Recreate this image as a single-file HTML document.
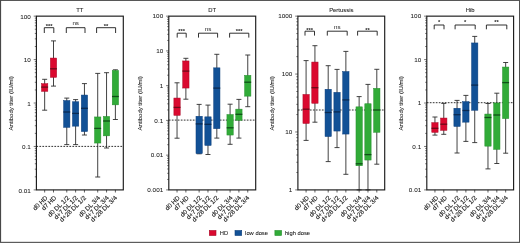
<!DOCTYPE html>
<html lang="en">
<head>
<meta charset="utf-8">
<title>Antibody titers: TT, DT, Pertussis, Hib</title>
<style>
html,body{margin:0;padding:0;background:#fff;}
body{width:520px;height:243px;overflow:hidden;font-family:"Liberation Sans",Arial,sans-serif;}
svg{display:block;will-change:transform;}
</style>
</head>
<body>
<svg width="520" height="243" viewBox="0 0 520 243" font-family="'Liberation Sans', Arial, sans-serif" font-size="5.8" fill="#1a1a1a">
<rect x="0" y="0" width="520" height="243" fill="#fff"/>
<g>
<text transform="translate(79.85,12.30) scale(0.97,1)" text-anchor="middle" font-size="6.1" stroke="#1a1a1a" stroke-width="0.08">TT</text>
<text transform="translate(12.70,103.33) rotate(-90) scale(0.965,1)" text-anchor="middle" font-size="6.2" stroke="#1a1a1a" stroke-width="0.08">Antibody titer (IU/ml)</text>
<line x1="36.40" y1="146.40" x2="123.30" y2="146.40" stroke="#1a1a1a" stroke-width="0.9" stroke-dasharray="1.7 1.3"/>
<path d="M44.67 79.30V110.20M42.17 79.30H47.17M42.17 110.20H47.17" stroke="#2e2e2e" stroke-width="0.9" fill="none"/>
<rect x="41.52" y="83.65" width="6.30" height="7.70" fill="#da092f" stroke="#a90826" stroke-width="0.5"/>
<line x1="41.27" y1="87.10" x2="48.07" y2="87.10" stroke="#6d0818" stroke-width="1.3"/>
<path d="M53.51 40.90V86.10M51.01 40.90H56.01M51.01 86.10H56.01" stroke="#2e2e2e" stroke-width="0.9" fill="none"/>
<rect x="50.36" y="58.05" width="6.30" height="19.30" fill="#da092f" stroke="#a90826" stroke-width="0.5"/>
<line x1="50.11" y1="68.80" x2="56.91" y2="68.80" stroke="#6d0818" stroke-width="1.3"/>
<path d="M66.77 98.10V144.60M64.27 98.10H69.27M64.27 144.60H69.27" stroke="#2e2e2e" stroke-width="0.9" fill="none"/>
<rect x="63.62" y="100.55" width="6.30" height="26.80" fill="#125196" stroke="#0c3f7c" stroke-width="0.5"/>
<line x1="63.37" y1="112.00" x2="70.17" y2="112.00" stroke="#0a2a52" stroke-width="1.3"/>
<path d="M75.61 99.60V144.60M73.11 99.60H78.11M73.11 144.60H78.11" stroke="#2e2e2e" stroke-width="0.9" fill="none"/>
<rect x="72.46" y="101.75" width="6.30" height="24.40" fill="#125196" stroke="#0c3f7c" stroke-width="0.5"/>
<line x1="72.21" y1="113.40" x2="79.01" y2="113.40" stroke="#0a2a52" stroke-width="1.3"/>
<path d="M84.45 83.60V135.00M81.95 83.60H86.95M81.95 135.00H86.95" stroke="#2e2e2e" stroke-width="0.9" fill="none"/>
<rect x="81.30" y="95.05" width="6.30" height="36.50" fill="#125196" stroke="#0c3f7c" stroke-width="0.5"/>
<line x1="81.05" y1="108.30" x2="87.85" y2="108.30" stroke="#0a2a52" stroke-width="1.3"/>
<path d="M97.71 73.40V177.00M95.21 73.40H100.21M95.21 177.00H100.21" stroke="#2e2e2e" stroke-width="0.9" fill="none"/>
<rect x="94.56" y="116.95" width="6.30" height="26.10" fill="#31ab38" stroke="#258f2c" stroke-width="0.5"/>
<line x1="94.31" y1="128.40" x2="101.11" y2="128.40" stroke="#0f4f17" stroke-width="1.3"/>
<path d="M106.55 72.70V148.00M104.05 72.70H109.05M104.05 148.00H109.05" stroke="#2e2e2e" stroke-width="0.9" fill="none"/>
<rect x="103.40" y="116.45" width="6.30" height="19.40" fill="#31ab38" stroke="#258f2c" stroke-width="0.5"/>
<line x1="103.15" y1="121.00" x2="109.95" y2="121.00" stroke="#0f4f17" stroke-width="1.3"/>
<path d="M115.39 69.80V119.50M112.89 69.80H117.89M112.89 119.50H117.89" stroke="#2e2e2e" stroke-width="0.9" fill="none"/>
<rect x="112.24" y="70.45" width="6.30" height="34.40" fill="#31ab38" stroke="#258f2c" stroke-width="0.5"/>
<line x1="111.99" y1="96.50" x2="118.79" y2="96.50" stroke="#0f4f17" stroke-width="1.3"/>
<rect x="36.40" y="16.15" width="86.90" height="173.75" fill="none" stroke="#1a1a1a" stroke-width="1.15"/>
<text transform="translate(30.80,18.95) scale(1.06,1)" text-anchor="end" font-size="6.0" stroke="#1a1a1a" stroke-width="0.05">100</text>
<text transform="translate(30.80,62.39) scale(1.06,1)" text-anchor="end" font-size="6.0" stroke="#1a1a1a" stroke-width="0.05">10</text>
<text transform="translate(30.80,105.83) scale(1.06,1)" text-anchor="end" font-size="6.0" stroke="#1a1a1a" stroke-width="0.05">1</text>
<text transform="translate(30.80,149.26) scale(1.06,1)" text-anchor="end" font-size="6.0" stroke="#1a1a1a" stroke-width="0.05">0.1</text>
<text transform="translate(30.80,192.70) scale(1.06,1)" text-anchor="end" font-size="6.0" stroke="#1a1a1a" stroke-width="0.05">0.01</text>
<path d="M33.70 16.15H36.40M34.80 46.51H36.40M34.80 38.86H36.40M34.80 33.44H36.40M34.80 29.23H36.40M34.80 25.79H36.40M34.80 22.88H36.40M34.80 20.36H36.40M34.80 18.14H36.40M33.70 59.59H36.40M34.80 89.95H36.40M34.80 82.30H36.40M34.80 76.87H36.40M34.80 72.66H36.40M34.80 69.22H36.40M34.80 66.32H36.40M34.80 63.80H36.40M34.80 61.58H36.40M33.70 103.03H36.40M34.80 133.39H36.40M34.80 125.74H36.40M34.80 120.31H36.40M34.80 116.10H36.40M34.80 112.66H36.40M34.80 109.75H36.40M34.80 107.23H36.40M34.80 105.01H36.40M33.70 146.46H36.40M34.80 176.82H36.40M34.80 169.18H36.40M34.80 163.75H36.40M34.80 159.54H36.40M34.80 156.10H36.40M34.80 153.19H36.40M34.80 150.67H36.40M34.80 148.45H36.40M33.70 189.90H36.40" stroke="#1a1a1a" stroke-width="0.6" fill="none"/>
<text transform="translate(47.97,198.30) rotate(-44.5)" text-anchor="end" font-size="6.3" stroke="#1a1a1a" stroke-width="0.14">d0 HD</text>
<text transform="translate(56.81,198.30) rotate(-44.5)" text-anchor="end" font-size="6.3" stroke="#1a1a1a" stroke-width="0.14">d7 HD</text>
<text transform="translate(69.67,198.30) rotate(-44.5)" text-anchor="end" font-size="6.3" stroke="#1a1a1a" stroke-width="0.14">d0 DL 1/2</text>
<text transform="translate(78.31,198.30) rotate(-44.5)" text-anchor="end" font-size="6.3" stroke="#1a1a1a" stroke-width="0.14">d+7 DL 1/2</text>
<text transform="translate(86.55,198.30) rotate(-44.5)" text-anchor="end" font-size="6.3" stroke="#1a1a1a" stroke-width="0.14">d+28 DL 1/2</text>
<text transform="translate(100.61,198.30) rotate(-44.5)" text-anchor="end" font-size="6.3" stroke="#1a1a1a" stroke-width="0.14">d0 DL 3/4</text>
<text transform="translate(109.25,198.30) rotate(-44.5)" text-anchor="end" font-size="6.3" stroke="#1a1a1a" stroke-width="0.14">d+7 DL 3/4</text>
<text transform="translate(117.49,198.30) rotate(-44.5)" text-anchor="end" font-size="6.3" stroke="#1a1a1a" stroke-width="0.14">d+28 DL 3/4</text>
<path d="M44.67 189.90V192.50M53.51 189.90V192.50M66.77 189.90V192.50M75.61 189.90V192.50M84.45 189.90V192.50M97.71 189.90V192.50M106.55 189.90V192.50M115.39 189.90V192.50" stroke="#1a1a1a" stroke-width="0.7" fill="none"/>
<path d="M44.30 33.00V27.70H53.80V33.00" stroke="#1a1a1a" stroke-width="0.9" fill="none"/>
<text x="49.05" y="27.70" text-anchor="middle" font-size="5.8" font-weight="bold">***</text>
<path d="M66.30 33.00V27.70H85.00V33.00" stroke="#1a1a1a" stroke-width="0.9" fill="none"/>
<text x="75.65" y="25.20" text-anchor="middle" font-size="6.2">ns</text>
<path d="M96.60 33.00V27.70H115.60V33.00" stroke="#1a1a1a" stroke-width="0.9" fill="none"/>
<text x="106.10" y="27.70" text-anchor="middle" font-size="5.8" font-weight="bold">**</text>
</g>
<g>
<text transform="translate(212.25,12.30) scale(0.97,1)" text-anchor="middle" font-size="6.1" stroke="#1a1a1a" stroke-width="0.08">DT</text>
<text transform="translate(141.50,103.33) rotate(-90) scale(0.965,1)" text-anchor="middle" font-size="6.2" stroke="#1a1a1a" stroke-width="0.08">Antibody titer (IU/ml)</text>
<line x1="168.80" y1="120.10" x2="255.70" y2="120.10" stroke="#1a1a1a" stroke-width="0.9" stroke-dasharray="1.7 1.3"/>
<path d="M177.04 82.80V138.20M174.54 82.80H179.54M174.54 138.20H179.54" stroke="#2e2e2e" stroke-width="0.9" fill="none"/>
<rect x="173.89" y="98.05" width="6.30" height="17.30" fill="#da092f" stroke="#a90826" stroke-width="0.5"/>
<line x1="173.64" y1="107.40" x2="180.44" y2="107.40" stroke="#6d0818" stroke-width="1.3"/>
<path d="M185.88 58.30V99.20M183.38 58.30H188.38M183.38 99.20H188.38" stroke="#2e2e2e" stroke-width="0.9" fill="none"/>
<rect x="182.73" y="60.95" width="6.30" height="27.10" fill="#da092f" stroke="#a90826" stroke-width="0.5"/>
<line x1="182.48" y1="71.10" x2="189.28" y2="71.10" stroke="#6d0818" stroke-width="1.3"/>
<path d="M199.14 104.40V153.80M196.64 104.40H201.64M196.64 153.80H201.64" stroke="#2e2e2e" stroke-width="0.9" fill="none"/>
<rect x="195.99" y="116.25" width="6.30" height="37.30" fill="#125196" stroke="#0c3f7c" stroke-width="0.5"/>
<line x1="195.74" y1="123.90" x2="202.54" y2="123.90" stroke="#0a2a52" stroke-width="1.3"/>
<path d="M207.98 105.10V154.50M205.48 105.10H210.48M205.48 154.50H210.48" stroke="#2e2e2e" stroke-width="0.9" fill="none"/>
<rect x="204.83" y="116.85" width="6.30" height="28.60" fill="#125196" stroke="#0c3f7c" stroke-width="0.5"/>
<line x1="204.58" y1="124.30" x2="211.38" y2="124.30" stroke="#0a2a52" stroke-width="1.3"/>
<path d="M216.82 54.30V138.10M214.32 54.30H219.32M214.32 138.10H219.32" stroke="#2e2e2e" stroke-width="0.9" fill="none"/>
<rect x="213.67" y="67.85" width="6.30" height="60.80" fill="#125196" stroke="#0c3f7c" stroke-width="0.5"/>
<line x1="213.42" y1="88.10" x2="220.22" y2="88.10" stroke="#0a2a52" stroke-width="1.3"/>
<path d="M230.08 104.20V144.30M227.58 104.20H232.58M227.58 144.30H232.58" stroke="#2e2e2e" stroke-width="0.9" fill="none"/>
<rect x="226.93" y="114.55" width="6.30" height="20.50" fill="#31ab38" stroke="#258f2c" stroke-width="0.5"/>
<line x1="226.68" y1="127.80" x2="233.48" y2="127.80" stroke="#0f4f17" stroke-width="1.3"/>
<path d="M238.92 99.40V138.10M236.42 99.40H241.42M236.42 138.10H241.42" stroke="#2e2e2e" stroke-width="0.9" fill="none"/>
<rect x="235.77" y="109.15" width="6.30" height="11.20" fill="#31ab38" stroke="#258f2c" stroke-width="0.5"/>
<line x1="235.52" y1="114.30" x2="242.32" y2="114.30" stroke="#0f4f17" stroke-width="1.3"/>
<path d="M247.76 55.00V106.70M245.26 55.00H250.26M245.26 106.70H250.26" stroke="#2e2e2e" stroke-width="0.9" fill="none"/>
<rect x="244.61" y="75.35" width="6.30" height="20.80" fill="#31ab38" stroke="#258f2c" stroke-width="0.5"/>
<line x1="244.36" y1="82.20" x2="251.16" y2="82.20" stroke="#0f4f17" stroke-width="1.3"/>
<rect x="168.80" y="16.15" width="86.90" height="173.75" fill="none" stroke="#1a1a1a" stroke-width="1.15"/>
<text transform="translate(163.20,18.45) scale(1.06,1)" text-anchor="end" font-size="6.0" stroke="#1a1a1a" stroke-width="0.05">100</text>
<text transform="translate(163.20,53.20) scale(1.06,1)" text-anchor="end" font-size="6.0" stroke="#1a1a1a" stroke-width="0.05">10</text>
<text transform="translate(163.20,87.95) scale(1.06,1)" text-anchor="end" font-size="6.0" stroke="#1a1a1a" stroke-width="0.05">1</text>
<text transform="translate(163.20,122.70) scale(1.06,1)" text-anchor="end" font-size="6.0" stroke="#1a1a1a" stroke-width="0.05">0.1</text>
<text transform="translate(163.20,157.45) scale(1.06,1)" text-anchor="end" font-size="6.0" stroke="#1a1a1a" stroke-width="0.05">0.01</text>
<text transform="translate(163.20,192.20) scale(1.06,1)" text-anchor="end" font-size="6.0" stroke="#1a1a1a" stroke-width="0.05">0.001</text>
<path d="M166.10 16.15H168.80M167.20 40.44H168.80M167.20 34.32H168.80M167.20 29.98H168.80M167.20 26.61H168.80M167.20 23.86H168.80M167.20 21.53H168.80M167.20 19.52H168.80M167.20 17.74H168.80M166.10 50.90H168.80M167.20 75.19H168.80M167.20 69.07H168.80M167.20 64.73H168.80M167.20 61.36H168.80M167.20 58.61H168.80M167.20 56.28H168.80M167.20 54.27H168.80M167.20 52.49H168.80M166.10 85.65H168.80M167.20 109.94H168.80M167.20 103.82H168.80M167.20 99.48H168.80M167.20 96.11H168.80M167.20 93.36H168.80M167.20 91.03H168.80M167.20 89.02H168.80M167.20 87.24H168.80M166.10 120.40H168.80M167.20 144.69H168.80M167.20 138.57H168.80M167.20 134.23H168.80M167.20 130.86H168.80M167.20 128.11H168.80M167.20 125.78H168.80M167.20 123.77H168.80M167.20 121.99H168.80M166.10 155.15H168.80M167.20 179.44H168.80M167.20 173.32H168.80M167.20 168.98H168.80M167.20 165.61H168.80M167.20 162.86H168.80M167.20 160.53H168.80M167.20 158.52H168.80M167.20 156.74H168.80M166.10 189.90H168.80" stroke="#1a1a1a" stroke-width="0.6" fill="none"/>
<text transform="translate(180.34,198.30) rotate(-44.5)" text-anchor="end" font-size="6.3" stroke="#1a1a1a" stroke-width="0.14">d0 HD</text>
<text transform="translate(189.18,198.30) rotate(-44.5)" text-anchor="end" font-size="6.3" stroke="#1a1a1a" stroke-width="0.14">d7 HD</text>
<text transform="translate(202.04,198.30) rotate(-44.5)" text-anchor="end" font-size="6.3" stroke="#1a1a1a" stroke-width="0.14">d0 DL 1/2</text>
<text transform="translate(210.68,198.30) rotate(-44.5)" text-anchor="end" font-size="6.3" stroke="#1a1a1a" stroke-width="0.14">d+7 DL 1/2</text>
<text transform="translate(218.92,198.30) rotate(-44.5)" text-anchor="end" font-size="6.3" stroke="#1a1a1a" stroke-width="0.14">d+28 DL 1/2</text>
<text transform="translate(232.98,198.30) rotate(-44.5)" text-anchor="end" font-size="6.3" stroke="#1a1a1a" stroke-width="0.14">d0 DL 3/4</text>
<text transform="translate(241.62,198.30) rotate(-44.5)" text-anchor="end" font-size="6.3" stroke="#1a1a1a" stroke-width="0.14">d+7 DL 3/4</text>
<text transform="translate(249.86,198.30) rotate(-44.5)" text-anchor="end" font-size="6.3" stroke="#1a1a1a" stroke-width="0.14">d+28 DL 3/4</text>
<path d="M177.04 189.90V192.50M185.88 189.90V192.50M199.14 189.90V192.50M207.98 189.90V192.50M216.82 189.90V192.50M230.08 189.90V192.50M238.92 189.90V192.50M247.76 189.90V192.50" stroke="#1a1a1a" stroke-width="0.7" fill="none"/>
<path d="M177.20 37.60V33.20H186.20V37.60" stroke="#1a1a1a" stroke-width="0.9" fill="none"/>
<text x="181.70" y="33.10" text-anchor="middle" font-size="5.8" font-weight="bold">***</text>
<path d="M198.50 37.60V33.20H217.60V37.60" stroke="#1a1a1a" stroke-width="0.9" fill="none"/>
<text x="208.05" y="31.30" text-anchor="middle" font-size="6.2">ns</text>
<path d="M229.60 37.60V33.20H248.80V37.60" stroke="#1a1a1a" stroke-width="0.9" fill="none"/>
<text x="239.20" y="33.10" text-anchor="middle" font-size="5.8" font-weight="bold">***</text>
</g>
<g>
<text transform="translate(341.30,12.30) scale(0.97,1)" text-anchor="middle" font-size="6.1" stroke="#1a1a1a" stroke-width="0.08">Pertussis</text>
<text transform="translate(274.20,103.33) rotate(-90) scale(0.965,1)" text-anchor="middle" font-size="6.2" stroke="#1a1a1a" stroke-width="0.08">Antibody titer (IU/ml)</text>
<line x1="297.90" y1="110.00" x2="384.70" y2="110.00" stroke="#1a1a1a" stroke-width="0.9" stroke-dasharray="1.7 1.3"/>
<path d="M306.09 60.60V140.40M303.59 60.60H308.59M303.59 140.40H308.59" stroke="#2e2e2e" stroke-width="0.9" fill="none"/>
<rect x="302.94" y="94.45" width="6.30" height="29.00" fill="#da092f" stroke="#a90826" stroke-width="0.5"/>
<line x1="302.69" y1="109.20" x2="309.49" y2="109.20" stroke="#6d0818" stroke-width="1.3"/>
<path d="M314.93 45.70V122.20M312.43 45.70H317.43M312.43 122.20H317.43" stroke="#2e2e2e" stroke-width="0.9" fill="none"/>
<rect x="311.78" y="62.05" width="6.30" height="41.20" fill="#da092f" stroke="#a90826" stroke-width="0.5"/>
<line x1="311.53" y1="87.70" x2="318.33" y2="87.70" stroke="#6d0818" stroke-width="1.3"/>
<path d="M328.19 65.70V161.60M325.69 65.70H330.69M325.69 161.60H330.69" stroke="#2e2e2e" stroke-width="0.9" fill="none"/>
<rect x="325.04" y="89.25" width="6.30" height="47.30" fill="#125196" stroke="#0c3f7c" stroke-width="0.5"/>
<line x1="324.79" y1="112.50" x2="331.59" y2="112.50" stroke="#0a2a52" stroke-width="1.3"/>
<path d="M337.03 69.40V147.60M334.53 69.40H339.53M334.53 147.60H339.53" stroke="#2e2e2e" stroke-width="0.9" fill="none"/>
<rect x="333.88" y="92.35" width="6.30" height="38.70" fill="#125196" stroke="#0c3f7c" stroke-width="0.5"/>
<line x1="333.63" y1="111.90" x2="340.43" y2="111.90" stroke="#0a2a52" stroke-width="1.3"/>
<path d="M345.87 51.40V174.30M343.37 51.40H348.37M343.37 174.30H348.37" stroke="#2e2e2e" stroke-width="0.9" fill="none"/>
<rect x="342.72" y="71.55" width="6.30" height="62.50" fill="#125196" stroke="#0c3f7c" stroke-width="0.5"/>
<line x1="342.47" y1="99.90" x2="349.27" y2="99.90" stroke="#0a2a52" stroke-width="1.3"/>
<path d="M359.13 96.60V189.90M356.63 96.60H361.63M356.63 189.90H361.63" stroke="#2e2e2e" stroke-width="0.9" fill="none"/>
<rect x="355.98" y="106.85" width="6.30" height="58.90" fill="#31ab38" stroke="#258f2c" stroke-width="0.5"/>
<line x1="355.73" y1="163.80" x2="362.53" y2="163.80" stroke="#0f4f17" stroke-width="1.3"/>
<path d="M367.97 84.40V189.90M365.47 84.40H370.47M365.47 189.90H370.47" stroke="#2e2e2e" stroke-width="0.9" fill="none"/>
<rect x="364.82" y="103.75" width="6.30" height="56.30" fill="#31ab38" stroke="#258f2c" stroke-width="0.5"/>
<line x1="364.57" y1="154.60" x2="371.37" y2="154.60" stroke="#0f4f17" stroke-width="1.3"/>
<path d="M376.81 69.30V164.20M374.31 69.30H379.31M374.31 164.20H379.31" stroke="#2e2e2e" stroke-width="0.9" fill="none"/>
<rect x="373.66" y="88.35" width="6.30" height="43.90" fill="#31ab38" stroke="#258f2c" stroke-width="0.5"/>
<line x1="373.41" y1="110.00" x2="380.21" y2="110.00" stroke="#0f4f17" stroke-width="1.3"/>
<rect x="297.90" y="16.15" width="86.80" height="173.75" fill="none" stroke="#1a1a1a" stroke-width="1.15"/>
<text transform="translate(292.30,18.45) scale(1.06,1)" text-anchor="end" font-size="6.0" stroke="#1a1a1a" stroke-width="0.05">1000</text>
<text transform="translate(292.30,76.37) scale(1.06,1)" text-anchor="end" font-size="6.0" stroke="#1a1a1a" stroke-width="0.05">100</text>
<text transform="translate(292.30,134.28) scale(1.06,1)" text-anchor="end" font-size="6.0" stroke="#1a1a1a" stroke-width="0.05">10</text>
<text transform="translate(292.30,192.20) scale(1.06,1)" text-anchor="end" font-size="6.0" stroke="#1a1a1a" stroke-width="0.05">1</text>
<path d="M295.20 16.15H297.90M296.30 56.63H297.90M296.30 46.43H297.90M296.30 39.20H297.90M296.30 33.58H297.90M296.30 29.00H297.90M296.30 25.12H297.90M296.30 21.76H297.90M296.30 18.80H297.90M295.20 74.07H297.90M296.30 114.55H297.90M296.30 104.35H297.90M296.30 97.11H297.90M296.30 91.50H297.90M296.30 86.92H297.90M296.30 83.04H297.90M296.30 79.68H297.90M296.30 76.72H297.90M295.20 131.98H297.90M296.30 172.47H297.90M296.30 162.27H297.90M296.30 155.03H297.90M296.30 149.42H297.90M296.30 144.83H297.90M296.30 140.95H297.90M296.30 137.60H297.90M296.30 134.63H297.90M295.20 189.90H297.90" stroke="#1a1a1a" stroke-width="0.6" fill="none"/>
<text transform="translate(309.39,198.30) rotate(-44.5)" text-anchor="end" font-size="6.3" stroke="#1a1a1a" stroke-width="0.14">d0 HD</text>
<text transform="translate(318.23,198.30) rotate(-44.5)" text-anchor="end" font-size="6.3" stroke="#1a1a1a" stroke-width="0.14">d7 HD</text>
<text transform="translate(331.09,198.30) rotate(-44.5)" text-anchor="end" font-size="6.3" stroke="#1a1a1a" stroke-width="0.14">d0 DL 1/2</text>
<text transform="translate(339.73,198.30) rotate(-44.5)" text-anchor="end" font-size="6.3" stroke="#1a1a1a" stroke-width="0.14">d+7 DL 1/2</text>
<text transform="translate(347.97,198.30) rotate(-44.5)" text-anchor="end" font-size="6.3" stroke="#1a1a1a" stroke-width="0.14">d+28 DL 1/2</text>
<text transform="translate(362.03,198.30) rotate(-44.5)" text-anchor="end" font-size="6.3" stroke="#1a1a1a" stroke-width="0.14">d0 DL 3/4</text>
<text transform="translate(370.67,198.30) rotate(-44.5)" text-anchor="end" font-size="6.3" stroke="#1a1a1a" stroke-width="0.14">d+7 DL 3/4</text>
<text transform="translate(378.91,198.30) rotate(-44.5)" text-anchor="end" font-size="6.3" stroke="#1a1a1a" stroke-width="0.14">d+28 DL 3/4</text>
<path d="M306.09 189.90V192.50M314.93 189.90V192.50M328.19 189.90V192.50M337.03 189.90V192.50M345.87 189.90V192.50M359.13 189.90V192.50M367.97 189.90V192.50M376.81 189.90V192.50" stroke="#1a1a1a" stroke-width="0.7" fill="none"/>
<path d="M305.00 35.60V31.20H314.50V35.60" stroke="#1a1a1a" stroke-width="0.9" fill="none"/>
<text x="309.75" y="32.00" text-anchor="middle" font-size="5.8" font-weight="bold">***</text>
<path d="M327.30 35.60V31.20H347.20V35.60" stroke="#1a1a1a" stroke-width="0.9" fill="none"/>
<text x="337.25" y="29.00" text-anchor="middle" font-size="6.2">ns</text>
<path d="M357.60 35.60V31.20H377.20V35.60" stroke="#1a1a1a" stroke-width="0.9" fill="none"/>
<text x="367.40" y="32.00" text-anchor="middle" font-size="5.8" font-weight="bold">**</text>
</g>
<g>
<text transform="translate(470.20,12.30) scale(0.97,1)" text-anchor="middle" font-size="6.1" stroke="#1a1a1a" stroke-width="0.08">Hib</text>
<text transform="translate(402.50,103.33) rotate(-90) scale(0.965,1)" text-anchor="middle" font-size="6.2" stroke="#1a1a1a" stroke-width="0.08">Antibody titer (IU/ml)</text>
<line x1="426.80" y1="102.70" x2="513.60" y2="102.70" stroke="#1a1a1a" stroke-width="0.9" stroke-dasharray="1.7 1.3"/>
<path d="M434.94 117.00V135.10M432.44 117.00H437.44M432.44 135.10H437.44" stroke="#2e2e2e" stroke-width="0.9" fill="none"/>
<rect x="431.79" y="122.65" width="6.30" height="9.70" fill="#da092f" stroke="#a90826" stroke-width="0.5"/>
<line x1="431.54" y1="128.30" x2="438.34" y2="128.30" stroke="#6d0818" stroke-width="1.3"/>
<path d="M443.78 103.40V134.30M441.28 103.40H446.28M441.28 134.30H446.28" stroke="#2e2e2e" stroke-width="0.9" fill="none"/>
<rect x="440.63" y="118.05" width="6.30" height="12.30" fill="#da092f" stroke="#a90826" stroke-width="0.5"/>
<line x1="440.38" y1="124.20" x2="447.18" y2="124.20" stroke="#6d0818" stroke-width="1.3"/>
<path d="M457.04 100.40V153.00M454.54 100.40H459.54M454.54 153.00H459.54" stroke="#2e2e2e" stroke-width="0.9" fill="none"/>
<rect x="453.89" y="108.25" width="6.30" height="18.20" fill="#125196" stroke="#0c3f7c" stroke-width="0.5"/>
<line x1="453.64" y1="114.70" x2="460.44" y2="114.70" stroke="#0a2a52" stroke-width="1.3"/>
<path d="M465.88 95.40V141.40M463.38 95.40H468.38M463.38 141.40H468.38" stroke="#2e2e2e" stroke-width="0.9" fill="none"/>
<rect x="462.73" y="101.65" width="6.30" height="20.50" fill="#125196" stroke="#0c3f7c" stroke-width="0.5"/>
<line x1="462.48" y1="110.50" x2="469.28" y2="110.50" stroke="#0a2a52" stroke-width="1.3"/>
<path d="M474.72 36.40V142.60M472.22 36.40H477.22M472.22 142.60H477.22" stroke="#2e2e2e" stroke-width="0.9" fill="none"/>
<rect x="471.57" y="42.95" width="6.30" height="67.30" fill="#125196" stroke="#0c3f7c" stroke-width="0.5"/>
<line x1="471.32" y1="85.10" x2="478.12" y2="85.10" stroke="#0a2a52" stroke-width="1.3"/>
<path d="M487.98 103.50V168.90M485.48 103.50H490.48M485.48 168.90H490.48" stroke="#2e2e2e" stroke-width="0.9" fill="none"/>
<rect x="484.83" y="114.05" width="6.30" height="32.10" fill="#31ab38" stroke="#258f2c" stroke-width="0.5"/>
<line x1="484.58" y1="117.50" x2="491.38" y2="117.50" stroke="#0f4f17" stroke-width="1.3"/>
<path d="M496.82 93.20V163.50M494.32 93.20H499.32M494.32 163.50H499.32" stroke="#2e2e2e" stroke-width="0.9" fill="none"/>
<rect x="493.67" y="102.95" width="6.30" height="46.40" fill="#31ab38" stroke="#258f2c" stroke-width="0.5"/>
<line x1="493.42" y1="115.00" x2="500.22" y2="115.00" stroke="#0f4f17" stroke-width="1.3"/>
<path d="M505.66 62.50V153.20M503.16 62.50H508.16M503.16 153.20H508.16" stroke="#2e2e2e" stroke-width="0.9" fill="none"/>
<rect x="502.51" y="67.05" width="6.30" height="51.50" fill="#31ab38" stroke="#258f2c" stroke-width="0.5"/>
<line x1="502.26" y1="82.60" x2="509.06" y2="82.60" stroke="#0f4f17" stroke-width="1.3"/>
<rect x="426.80" y="16.15" width="86.80" height="173.75" fill="none" stroke="#1a1a1a" stroke-width="1.15"/>
<text transform="translate(421.20,18.45) scale(1.06,1)" text-anchor="end" font-size="6.0" stroke="#1a1a1a" stroke-width="0.05">100</text>
<text transform="translate(421.20,61.89) scale(1.06,1)" text-anchor="end" font-size="6.0" stroke="#1a1a1a" stroke-width="0.05">10</text>
<text transform="translate(421.20,105.33) scale(1.06,1)" text-anchor="end" font-size="6.0" stroke="#1a1a1a" stroke-width="0.05">1</text>
<text transform="translate(421.20,148.76) scale(1.06,1)" text-anchor="end" font-size="6.0" stroke="#1a1a1a" stroke-width="0.05">0.1</text>
<text transform="translate(421.20,192.20) scale(1.06,1)" text-anchor="end" font-size="6.0" stroke="#1a1a1a" stroke-width="0.05">0.01</text>
<path d="M424.10 16.15H426.80M425.20 46.51H426.80M425.20 38.86H426.80M425.20 33.44H426.80M425.20 29.23H426.80M425.20 25.79H426.80M425.20 22.88H426.80M425.20 20.36H426.80M425.20 18.14H426.80M424.10 59.59H426.80M425.20 89.95H426.80M425.20 82.30H426.80M425.20 76.87H426.80M425.20 72.66H426.80M425.20 69.22H426.80M425.20 66.32H426.80M425.20 63.80H426.80M425.20 61.58H426.80M424.10 103.03H426.80M425.20 133.39H426.80M425.20 125.74H426.80M425.20 120.31H426.80M425.20 116.10H426.80M425.20 112.66H426.80M425.20 109.75H426.80M425.20 107.23H426.80M425.20 105.01H426.80M424.10 146.46H426.80M425.20 176.82H426.80M425.20 169.18H426.80M425.20 163.75H426.80M425.20 159.54H426.80M425.20 156.10H426.80M425.20 153.19H426.80M425.20 150.67H426.80M425.20 148.45H426.80M424.10 189.90H426.80" stroke="#1a1a1a" stroke-width="0.6" fill="none"/>
<text transform="translate(438.64,198.30) rotate(-44.5)" text-anchor="end" font-size="6.3" stroke="#1a1a1a" stroke-width="0.14">d0 HD</text>
<text transform="translate(447.48,198.30) rotate(-44.5)" text-anchor="end" font-size="6.3" stroke="#1a1a1a" stroke-width="0.14">d7 HD</text>
<text transform="translate(460.34,198.30) rotate(-44.5)" text-anchor="end" font-size="6.3" stroke="#1a1a1a" stroke-width="0.14">d0 DL 1/2</text>
<text transform="translate(468.98,198.30) rotate(-44.5)" text-anchor="end" font-size="6.3" stroke="#1a1a1a" stroke-width="0.14">d+7 DL 1/2</text>
<text transform="translate(477.22,198.30) rotate(-44.5)" text-anchor="end" font-size="6.3" stroke="#1a1a1a" stroke-width="0.14">d+28 DL 1/2</text>
<text transform="translate(491.28,198.30) rotate(-44.5)" text-anchor="end" font-size="6.3" stroke="#1a1a1a" stroke-width="0.14">d0 DL 3/4</text>
<text transform="translate(499.92,198.30) rotate(-44.5)" text-anchor="end" font-size="6.3" stroke="#1a1a1a" stroke-width="0.14">d+7 DL 3/4</text>
<text transform="translate(508.16,198.30) rotate(-44.5)" text-anchor="end" font-size="6.3" stroke="#1a1a1a" stroke-width="0.14">d+28 DL 3/4</text>
<path d="M434.94 189.90V192.50M443.78 189.90V192.50M457.04 189.90V192.50M465.88 189.90V192.50M474.72 189.90V192.50M487.98 189.90V192.50M496.82 189.90V192.50M505.66 189.90V192.50" stroke="#1a1a1a" stroke-width="0.7" fill="none"/>
<path d="M434.20 29.30V25.00H444.00V29.30" stroke="#1a1a1a" stroke-width="0.9" fill="none"/>
<text x="439.10" y="24.20" text-anchor="middle" font-size="5.8" font-weight="bold">*</text>
<path d="M455.10 29.30V25.00H475.20V29.30" stroke="#1a1a1a" stroke-width="0.9" fill="none"/>
<text x="465.15" y="24.20" text-anchor="middle" font-size="5.8" font-weight="bold">*</text>
<path d="M486.40 29.30V25.00H506.80V29.30" stroke="#1a1a1a" stroke-width="0.9" fill="none"/>
<text x="496.60" y="24.20" text-anchor="middle" font-size="5.8" font-weight="bold">**</text>
</g>
<rect x="209.30" y="230.5" width="6.7" height="5.0" fill="#da092f" stroke="#a90826" stroke-width="0.6"/>
<text transform="translate(219.80,235.00) scale(0.935,1)" text-anchor="start" font-size="6.2" stroke="#1a1a1a" stroke-width="0.08">HD</text>
<rect x="235.00" y="230.5" width="6.7" height="5.0" fill="#125196" stroke="#0c3f7c" stroke-width="0.6"/>
<text transform="translate(245.10,235.00) scale(0.935,1)" text-anchor="start" font-size="6.2" stroke="#1a1a1a" stroke-width="0.08">low dose</text>
<rect x="274.90" y="230.5" width="6.7" height="5.0" fill="#31ab38" stroke="#258f2c" stroke-width="0.6"/>
<text transform="translate(284.90,235.00) scale(0.935,1)" text-anchor="start" font-size="6.2" stroke="#1a1a1a" stroke-width="0.08">high dose</text>
<rect x="0" y="0" width="520" height="0.85" fill="#3a3a3a"/>
<rect x="0" y="0" width="1.1" height="243" fill="#484848"/>
<rect x="519" y="0" width="1" height="243" fill="#505050"/>
<rect x="0" y="242" width="520" height="1" fill="#5c5c5c"/>
<rect x="0" y="241" width="520" height="1" fill="#5c5c5c" opacity="0.2"/>
</svg>
</body>
</html>
